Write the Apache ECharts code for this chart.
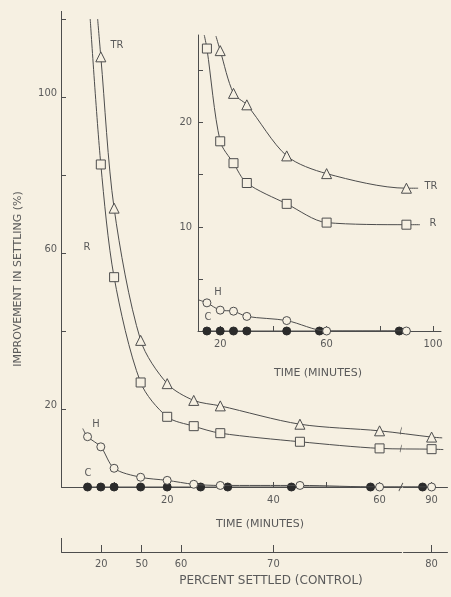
<!DOCTYPE html>
<html><head><meta charset="utf-8">
<script src="https://cdn.jsdelivr.net/npm/echarts@6/dist/echarts.min.js"></script>
<style>html,body{margin:0;padding:0;background:#f6f0e2;}#c{width:451px;height:597px;}</style>
</head><body><div id="c"></div>
<script>
// ---------- main panel data (time in minutes, improvement %) ----------
const mainTimeTicks = [10, 20, 30, 40, 50, 60, 90];
const mainTimeLabels = [20, 40, 60, 90];
const mainYTicks = [20, 40, 60, 80, 100, 120];
const mainYLabels = [20, 60, 100];
const trTimes = [7.5, 10, 15, 20, 25, 30, 45, 60, 90];
const trValues = [110.3, 71.5, 37.6, 26.5, 22.2, 20.8, 16.1, 14.4, 12.8];
const rTimes = [7.5, 10, 15, 20, 25, 30, 45, 60, 90];
const rValues = [82.7, 53.8, 26.8, 18.0, 15.6, 13.8, 11.6, 9.9, 9.7];
const hTimes = [5, 7.5, 10, 15, 20, 25, 30, 45, 60, 90];
const hValues = [12.9, 10.3, 4.8, 2.5, 1.7, 0.7, 0.4, 0.4, 0, 0];
const cTimes = [5, 7.5, 10, 15, 20, 26.3, 31.4, 43.4, 58.3, 88.3];
const cValues = [0, 0, 0, 0, 0, 0, 0, 0, 0, 0];
// unmarked ends of the drawn curves
const trCurveStart = [6.9, 120], trCurveEnd = [92.0, 12.6];
const rCurveStart = [5.5, 120], rCurveEnd = [92.2, 9.6];
const hCurveStart = [4.1, 15];
// secondary scale: percent settled (control) against time
const percentLabels = [20, 50, 60, 70, 80];
const percentTimes = [7.6, 15.2, 22.6, 40.0, 90.0];

// ---------- inset panel data ----------
const insetTimeTicks = [20, 40, 60, 80, 100];
const insetTimeLabels = [20, 60, 100];
const insetYTicks = [5, 10, 15, 20, 25];
const insetYLabels = [10, 20];
const iTrTimes = [20, 25, 30, 45, 60, 90];
const iTrValues = [26.9, 22.8, 21.7, 16.8, 15.1, 13.7];
const iRTimes = [15, 20, 25, 30, 45, 60, 90];
const iRValues = [27.1, 18.2, 16.1, 14.2, 12.2, 10.4, 10.2];
const iHTimes = [15, 20, 25, 30, 45, 60, 90];
const iHValues = [2.7, 2.0, 1.9, 1.4, 1.0, 0, 0];
const iCTimes = [15, 20, 25, 30, 45, 57.3, 87.3];
const iCValues = [0, 0, 0, 0, 0, 0, 0];
const iTrCurveStart = [18.4, 28.3], iTrCurveEnd = [94.4, 13.7];
const iRCurveStart = [14.0, 28.4], iRCurveEnd = [95.1, 10.2];
const iHCurveStart = [11.65, 3.0];

const BG = '#f6f0e2', INK = '#4d4d4d', TXT = '#5a5a5a';
const FONT = "'DejaVu Sans Condensed','Liberation Sans Narrow','DejaVu Sans',sans-serif";
const TFONT = "'DejaVu Sans',sans-serif";

function curve(lead, times, values, tail) {
  const d = times.map((t, i) => [t, values[i]]);
  if (lead) d.unshift({ value: lead, symbol: 'none' });
  if (tail) d.push({ value: tail, symbol: 'none' });
  return d;
}

const mainBreak = [{ start: 64, end: 84.6, gap: 0.4 }];

function lineSeries(name, xi, data, symbol, size, filled) {
  return {
    name, type: 'line', xAxisIndex: xi, yAxisIndex: xi === 2 ? 1 : 0,
    data, symbol, symbolSize: size, smooth: filled ? false : 0.3, clip: true,
    showAllSymbol: true,
    lineStyle: { color: INK, width: 1 },
    itemStyle: { color: filled ? '#2b2b2b' : BG, borderColor: filled ? '#2b2b2b' : INK, borderWidth: 1 },
    emphasis: { disabled: true }, z: filled ? 3 : 4
  };
}
function scatterSeries(name, xi, data, symbol, size, z) {
  return {
    name, type: 'scatter', xAxisIndex: xi, yAxisIndex: xi === 2 ? 1 : 0,
    data, symbol, symbolSize: size, clip: false,
    itemStyle: { color: BG, borderColor: INK, borderWidth: 1, opacity: 1 },
    emphasis: { disabled: true }, z: z || 5
  };
}

const axisCommon = {
  axisLine: { show: true, lineStyle: { color: INK, width: 1 } },
  axisTick: { show: true, inside: true, length: 5, lineStyle: { color: INK } },
  splitLine: { show: false },
  axisLabel: { color: TXT, fontFamily: FONT, fontSize: 11 }
};

const option = {
  backgroundColor: BG,
  animation: false,
  grid: [
    { left: 61, top: 19, right: 4, bottom: 110, containLabel: false },
    { left: 198, top: 35, right: 10, bottom: 266, containLabel: false }
  ],
  xAxis: [
    Object.assign({}, axisCommon, {
      type: 'value', gridIndex: 0, min: 0, max: 92.9, position: 'bottom',
      breaks: mainBreak, breakArea: { show: false },
      axisTick: Object.assign({}, axisCommon.axisTick, { customValues: mainTimeTicks }),
      axisLabel: Object.assign({}, axisCommon.axisLabel, { customValues: mainTimeLabels, margin: 8 })
    }),
    Object.assign({}, axisCommon, {
      type: 'value', gridIndex: 0, min: 0, max: 92.9, position: 'bottom', offset: 65,
      breaks: mainBreak, breakArea: { show: false },
      axisLine: { show: true, breakLine: true, lineStyle: { color: INK, width: 1 } },
      axisTick: Object.assign({}, axisCommon.axisTick, { length: 7, customValues: percentTimes }),
      axisLabel: Object.assign({}, axisCommon.axisLabel, {
        customValues: percentTimes, margin: 7,
        formatter: v => {
          let best = 0;
          percentTimes.forEach((t, i) => { if (Math.abs(t - v) < Math.abs(percentTimes[best] - v)) best = i; });
          return String(percentLabels[best]);
        }
      })
    }),
    Object.assign({}, axisCommon, {
      type: 'value', gridIndex: 1, min: 11.65, max: 103,
      axisTick: Object.assign({}, axisCommon.axisTick, { customValues: insetTimeTicks }),
      axisLabel: Object.assign({}, axisCommon.axisLabel, { customValues: insetTimeLabels, margin: 8 })
    })
  ],
  yAxis: [
    Object.assign({}, axisCommon, {
      type: 'value', gridIndex: 0, min: 0, max: 120,
      axisTick: Object.assign({}, axisCommon.axisTick, { customValues: mainYTicks }),
      axisLabel: Object.assign({}, axisCommon.axisLabel, { customValues: mainYLabels, margin: 4, verticalAlign: 'bottom', padding: [0, 0, -2, 0] })
    }),
    Object.assign({}, axisCommon, {
      type: 'value', gridIndex: 1, min: 0, max: 28.4,
      axisTick: Object.assign({}, axisCommon.axisTick, { customValues: insetYTicks }),
      axisLabel: Object.assign({}, axisCommon.axisLabel, { customValues: insetYLabels, margin: 6 })
    })
  ],
  series: [
    // main panel
    lineSeries('C', 0, cTimes.map((t, i) => [t, cValues[i]]), 'circle', 8, true),
    lineSeries('H', 0, curve(hCurveStart, hTimes, hValues, null), 'circle', 8, false),
    lineSeries('R', 0, curve(rCurveStart, rTimes, rValues, rCurveEnd), 'rect', 9, false),
    lineSeries('TR', 0, curve(trCurveStart, trTimes, trValues, trCurveEnd), 'triangle', 10, false),
    // break marks on the broken time axis and on the curves crossing it
    scatterSeries('axis break', 0, [[64, 0]], 'path://M0,10L4,0', [4, 8], 6),
    scatterSeries('curve break', 0, [[64, trValues[7]], [64, rValues[7]]], 'path://M0,10L1,0', [1.5, 7], 6),
    // inset panel
    lineSeries('C inset', 2, iCTimes.map((t, i) => [t, iCValues[i]]), 'circle', 8, true),
    lineSeries('H inset', 2, curve(iHCurveStart, iHTimes, iHValues, null), 'circle', 8, false),
    lineSeries('R inset', 2, curve(iRCurveStart, iRTimes, iRValues, iRCurveEnd), 'rect', 9, false),
    lineSeries('TR inset', 2, curve(iTrCurveStart, iTrTimes, iTrValues, iTrCurveEnd), 'triangle', 10, false)
  ],
  graphic: [
    { type: 'text', x: 18, y: 279, rotation: Math.PI / 2, style: { text: 'IMPROVEMENT IN SETTLING (%)', fill: TXT, font: '11px ' + TFONT, align: 'center', verticalAlign: 'middle' } },
    { type: 'text', x: 260, y: 524, style: { text: 'TIME (MINUTES)', fill: TXT, font: '11px ' + TFONT, align: 'center', verticalAlign: 'middle' } },
    { type: 'text', x: 271, y: 581, style: { text: 'PERCENT SETTLED (CONTROL)', fill: TXT, font: '12px ' + TFONT, align: 'center', verticalAlign: 'middle' } },
    { type: 'text', x: 318, y: 373, style: { text: 'TIME (MINUTES)', fill: TXT, font: '11px ' + TFONT, align: 'center', verticalAlign: 'middle' } },
    { type: 'line', shape: { x1: 61.5, y1: 538, x2: 61.5, y2: 552 }, style: { stroke: INK, lineWidth: 1 } },
    { type: 'line', shape: { x1: 61.5, y1: 11, x2: 61.5, y2: 19 }, style: { stroke: INK, lineWidth: 1 } },
    { type: 'text', x: 117, y: 45, style: { text: 'TR', fill: TXT, font: '11px ' + FONT, align: 'center', verticalAlign: 'middle' } },
    { type: 'text', x: 87, y: 247, style: { text: 'R', fill: TXT, font: '11px ' + FONT, align: 'center', verticalAlign: 'middle' } },
    { type: 'text', x: 96, y: 424, style: { text: 'H', fill: TXT, font: '11px ' + FONT, align: 'center', verticalAlign: 'middle' } },
    { type: 'text', x: 88, y: 473, style: { text: 'C', fill: TXT, font: '11px ' + FONT, align: 'center', verticalAlign: 'middle' } },
    { type: 'text', x: 431, y: 186, style: { text: 'TR', fill: TXT, font: '11px ' + FONT, align: 'center', verticalAlign: 'middle' } },
    { type: 'text', x: 433, y: 223, style: { text: 'R', fill: TXT, font: '11px ' + FONT, align: 'center', verticalAlign: 'middle' } },
    { type: 'text', x: 218, y: 292, style: { text: 'H', fill: TXT, font: '11px ' + FONT, align: 'center', verticalAlign: 'middle' } },
    { type: 'text', x: 208, y: 317, style: { text: 'C', fill: TXT, font: '11px ' + FONT, align: 'center', verticalAlign: 'middle' } }
  ]
};
const chart = echarts.init(document.getElementById('c'));
chart.setOption(option);
</script></body></html>
